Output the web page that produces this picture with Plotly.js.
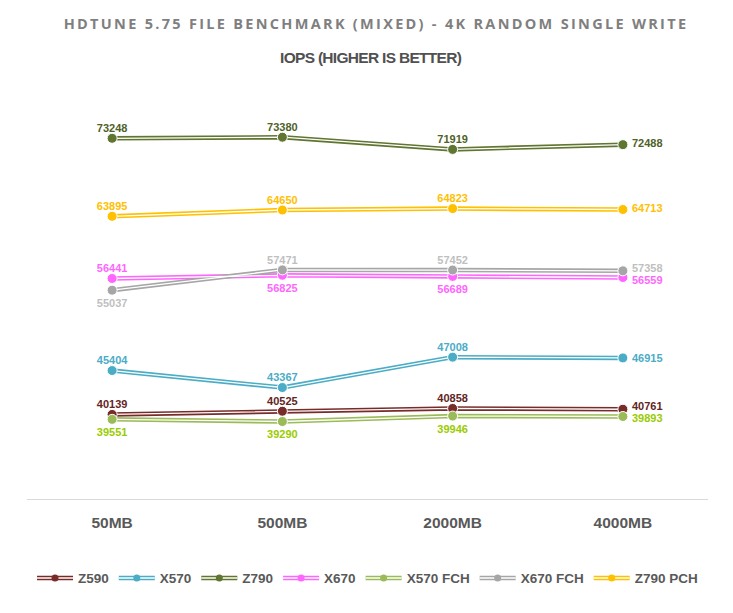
<!DOCTYPE html>
<html>
<head>
<meta charset="utf-8">
<script src="https://cdn.plot.ly/plotly-3.0.1.min.js"></script>
<style>
html,body{margin:0;padding:0;background:#fff;}
#chart{width:733px;height:613px;}
.gtitle{letter-spacing:2.3px;}
.annotation[data-index="0"] text{letter-spacing:-0.7px;}
</style>
</head>
<body>
<div id="chart"></div>
<script>
const categories = ["50MB", "500MB", "2000MB", "4000MB"];
const seriesNames = ["Z590", "X570", "Z790", "X670", "X570 FCH", "X670 FCH", "Z790 PCH"];
const z590 = [40139, 40525, 40858, 40761];
const x570 = [45404, 43367, 47008, 46915];
const z790 = [73248, 73380, 71919, 72488];
const x670 = [56441, 56825, 56689, 56559];
const x570fch = [39551, 39290, 39946, 39893];
const x670fch = [55037, 57471, 57452, 57358];
const z790pch = [63895, 64650, 64823, 64713];

const seriesValues = [z590, x570, z790, x670, x570fch, x670fch, z790pch];
const lineColors = ["#772c2a", "#4bacc6", "#5f7530", "#ff66ff", "#9bbb59", "#a6a6a6", "#ffc000"];
const labelColors = ["#632523", "#4bacc6", "#4f6228", "#ff66ff", "#99cc00", "#bfbfbf", "#ffc000"];
// label placement for the first three categories; the last category is labelled on the right
const labelPos = [
  ["top center", "top center", "top center"],
  ["top center", "top center", "top center"],
  ["top center", "top center", "top center"],
  ["top center", "bottom center", "bottom center"],
  ["bottom center", "bottom center", "bottom center"],
  ["bottom center", "top center", "top center"],
  ["top center", "top center", "top center"]
];
const rightLabelShift = [3, 0, 2, -2, -2, 3, 1];

const labelFont = (c) => ({family: "Liberation Sans, Arial, sans-serif", size: 11, color: c, weight: "bold"});

const traces = [];
seriesNames.forEach((name, i) => {
  traces.push({
    x: categories, y: seriesValues[i], name: name, type: "scatter",
    mode: "lines+markers", legendgroup: name,
    line: {color: lineColors[i], width: 4.5},
    marker: {color: lineColors[i], size: 7, symbol: "circle"},
    hoverinfo: "skip"
  });
});
seriesNames.forEach((name, i) => {
  traces.push({
    x: categories, y: seriesValues[i], name: name, type: "scatter",
    mode: "lines", showlegend: false, legendgroup: name,
    line: {color: "#ffffff", width: 1.3},
    hoverinfo: "skip"
  });
});
seriesNames.forEach((name, i) => {
  traces.push({
    x: categories, y: seriesValues[i], name: name, type: "scatter",
    mode: "markers", showlegend: false, legendgroup: name,
    marker: {color: lineColors[i], size: 10, symbol: "circle", line: {color: "#ffffff", width: 1}},
    hoverinfo: "skip"
  });
  const n = labelPos[i].length;
  traces.push({
    x: categories.slice(0, n), y: seriesValues[i].slice(0, n), name: name, type: "scatter",
    mode: "markers+text", showlegend: false, legendgroup: name,
    marker: {opacity: 0, size: labelPos[i].map(p => p.startsWith("top") ? 4 : 12)},
    text: seriesValues[i].slice(0, n).map(String),
    textposition: labelPos[i],
    textfont: labelFont(labelColors[i]),
    hoverinfo: "skip"
  });
});

const annotations = [{
  text: "IOPS (HIGHER IS BETTER)", xref: "paper", yref: "paper",
  x: 0.505, y: 1.0, yshift: 25, xanchor: "center", yanchor: "middle", showarrow: false,
  font: {family: "Liberation Sans, Arial, sans-serif", size: 15.5, color: "#505050", weight: "bold"}
}];
seriesNames.forEach((name, i) => {
  const k = categories.length - 1;
  annotations.push({
    x: categories[k], y: seriesValues[i][k], xref: "x", yref: "y",
    text: String(seriesValues[i][k]), showarrow: false,
    xanchor: "left", yanchor: "middle", xshift: 7, yshift: rightLabelShift[i],
    font: labelFont(labelColors[i])
  });
});

const layout = {
  width: 733, height: 613,
  paper_bgcolor: "#ffffff", plot_bgcolor: "#ffffff",
  margin: {l: 27, r: 25, t: 82, b: 114},
  title: {
    text: "HDTUNE 5.75 FILE BENCHMARK (MIXED) - 4K RANDOM SINGLE WRITE",
    font: {family: "Open Sans, sans-serif", size: 14.5, color: "#7f7f7f", weight: "bold"},
    xref: "paper", x: 0.5125, xanchor: "center", y: 0.961, yanchor: "middle"
  },
  annotations: annotations,
  xaxis: {
    type: "category", range: [-0.5, 3.5],
    showgrid: false, zeroline: false,
    showline: true, linecolor: "#d9d9d9", linewidth: 1,
    ticks: "outside", ticklen: 9, tickcolor: "rgba(0,0,0,0)",
    tickfont: {family: "Liberation Sans, Arial, sans-serif", size: 15.5, color: "#595959", weight: "bold"},
    fixedrange: true
  },
  yaxis: {
    range: [30000, 80000], showgrid: false, zeroline: false,
    showline: false, showticklabels: false, ticks: "", fixedrange: true
  },
  showlegend: true,
  legend: {
    orientation: "h", x: 0.5, xanchor: "center", y: -0.19, yanchor: "middle",
    font: {family: "Liberation Sans, Arial, sans-serif", size: 13.5, color: "#595959", weight: "bold"},
    itemwidth: 36, traceorder: "normal", bgcolor: "rgba(0,0,0,0)"
  }
};

Plotly.newPlot("chart", traces, layout, {displayModeBar: false, staticPlot: true}).then(() => {
  // give legend lines the same double-line look as the plotted series
  document.querySelectorAll(".legend .legendlines path").forEach(p => {
    const c = p.cloneNode(true);
    c.style.stroke = "#ffffff";
    c.style.strokeWidth = "1.3px";
    p.parentNode.appendChild(c);
  });
  document.querySelectorAll(".legend .legendpoints").forEach(g => {
    g.parentNode.appendChild(g);
  });
});
</script>
</body>
</html>
